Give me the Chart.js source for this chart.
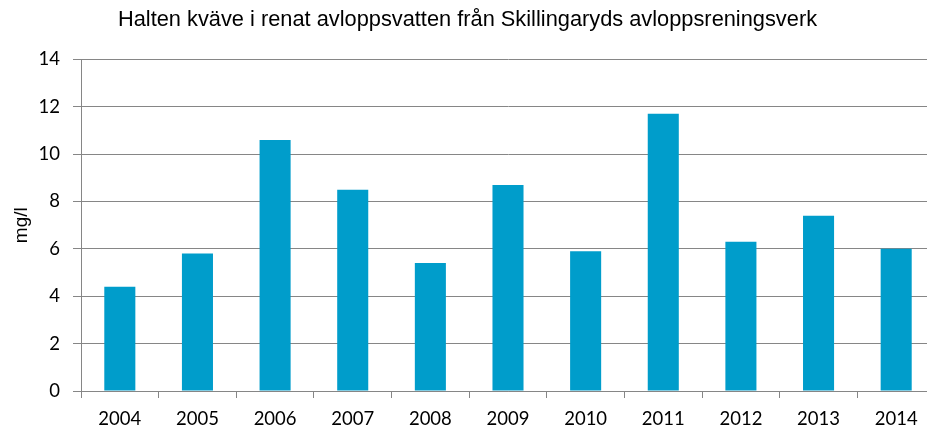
<!DOCTYPE html>
<html>
<head>
<meta charset="utf-8">
<script src="https://cdn.jsdelivr.net/npm/chart.js@4"></script>
<style>
  html, body { margin: 0; padding: 0; background: #fff; overflow: hidden; }
  /* plot runs slightly past the right edge of the window */
  #wrap { width: 936px; height: 428px; }
</style>
</head>
<body>
<div id="wrap"><canvas id="kvaveChart"></canvas></div>
<script>
var years = ['2004', '2005', '2006', '2007', '2008', '2009', '2010', '2011', '2012', '2013', '2014'];
var kvave = [4.4, 5.8, 10.6, 8.5, 5.4, 8.7, 5.9, 11.7, 6.3, 7.4, 6.0];

var ctx = document.getElementById('kvaveChart').getContext('2d');
var kvaveChart = new Chart(ctx, {
    type: 'bar',
    data: {
        labels: years,
        datasets: [{
            label: 'Kväve',
            data: kvave,
            backgroundColor: '#009dcb',
            borderWidth: 0,
            barPercentage: 0.4,
            categoryPercentage: 1.0
        }]
    },
    options: {
        responsive: true,
        maintainAspectRatio: false,
        animation: false,
        layout: {
            padding: { left: 0, right: 1, top: 0, bottom: 0 }
        },
        plugins: {
            legend: { display: false },
            tooltip: { enabled: false },
            title: {
                display: true,
                text: 'Halten kväve i renat avloppsvatten från Skillingaryds avloppsreningsverk',
                color: '#000',
                font: { family: 'Liberation Sans, Arial', size: 21.8, weight: 'normal', lineHeight: 1.2 },
                padding: { top: 7, bottom: 26.2 }
            }
        },
        scales: {
            x: {
                offset: true,
                afterFit: function (scale) { scale.height = 37; },
                grid: {
                    offset: true,
                    drawOnChartArea: false,
                    drawTicks: true,
                    tickLength: 7,
                    color: '#868686'
                },
                border: { color: '#868686' },
                ticks: {
                    color: '#000',
                    padding: 10,
                    font: { family: 'Lato, Open Sans', size: 18.5 }
                }
            },
            y: {
                min: 0,
                max: 14,
                afterFit: function (scale) { scale.width = 81; },
                ticks: {
                    stepSize: 2,
                    color: '#000',
                    padding: 13,
                    font: { family: 'Lato, Open Sans', size: 18.5 }
                },
                grid: {
                    color: '#868686',
                    tickLength: 8
                },
                border: { color: '#868686' },
                title: {
                    display: true,
                    text: 'mg/l',
                    color: '#000',
                    padding: { top: 10.2, bottom: 0 },
                    font: { family: 'Liberation Sans, Arial', size: 19, lineHeight: 1.2 }
                }
            }
        }
    }
});
</script>
</body>
</html>
